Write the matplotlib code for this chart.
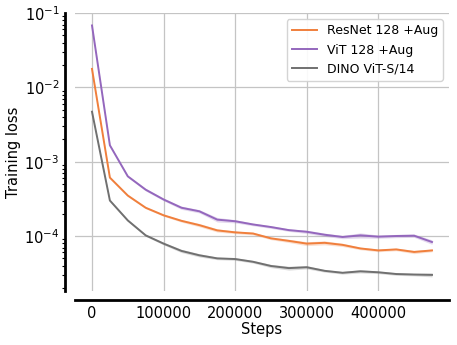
import numpy as np
import matplotlib
matplotlib.use("Agg")
import matplotlib.pyplot as plt
from matplotlib.ticker import LogLocator, NullFormatter

steps = [0, 25000, 50000, 75000, 100000, 125000, 150000, 175000, 200000, 225000,
         250000, 275000, 300000, 325000, 350000, 375000, 400000, 425000, 450000, 475000]

resnet = [1.77e-2, 6.1e-4, 3.5e-4, 2.4e-4, 1.9e-4, 1.6e-4, 1.4e-4, 1.19e-4, 1.12e-4, 1.08e-4,
          9.3e-5, 8.6e-5, 7.9e-5, 8.1e-5, 7.6e-5, 6.8e-5, 6.4e-5, 6.6e-5, 6.1e-5, 6.4e-5]
vit = [6.8e-2, 1.66e-3, 6.35e-4, 4.2e-4, 3.1e-4, 2.4e-4, 2.15e-4, 1.66e-4, 1.58e-4, 1.43e-4,
       1.32e-4, 1.2e-4, 1.14e-4, 1.04e-4, 9.7e-5, 1.02e-4, 9.8e-5, 1.0e-4, 1.01e-4, 8.3e-5]
dino = [4.7e-3, 3.0e-4, 1.62e-4, 1.02e-4, 7.9e-5, 6.3e-5, 5.5e-5, 5.0e-5, 4.9e-5, 4.5e-5,
        3.95e-5, 3.7e-5, 3.8e-5, 3.4e-5, 3.2e-5, 3.35e-5, 3.25e-5, 3.08e-5, 3.03e-5, 3.0e-5]

# relative spread of the shaded band around each curve
resnet_spread = [0.02, 0.03, 0.03, 0.03, 0.03, 0.04, 0.05, 0.05, 0.04, 0.04,
                 0.04, 0.05, 0.06, 0.06, 0.05, 0.04, 0.04, 0.04, 0.05, 0.04]
vit_spread = [0.02, 0.03, 0.03, 0.04, 0.04, 0.05, 0.05, 0.07, 0.05, 0.04,
              0.04, 0.04, 0.05, 0.05, 0.05, 0.08, 0.05, 0.05, 0.05, 0.07]
dino_spread = [0.02, 0.03, 0.03, 0.03, 0.04, 0.05, 0.05, 0.04, 0.04, 0.04,
               0.05, 0.06, 0.05, 0.04, 0.04, 0.05, 0.04, 0.04, 0.04, 0.06]

labels = ["ResNet 128 +Aug", "ViT 128 +Aug", "DINO ViT-S/14"]
colors = ["#f07f3c", "#9467bd", "#707070"]

fig = plt.figure(figsize=(4.57, 3.45), dpi=100)
ax = fig.add_axes([0.1641, 0.1565, 0.8184, 0.8058])

x = np.array(steps)
for vals, spread, lab, c in zip([resnet, vit, dino], [resnet_spread, vit_spread, dino_spread], labels, colors):
    v = np.array(vals)
    s = np.array(spread)
    ax.fill_between(x, v * (1 - s), v * (1 + s), color=c, alpha=0.25, linewidth=0)
    ax.plot(x, v, color=c, lw=1.4, label=lab)

ax.set_yscale("log")
ax.set_ylim(10 ** -4.74, 1e-1)
ax.set_xlim(-23750, 498750)
ax.set_xticks([0, 100000, 200000, 300000, 400000])
ax.set_xticklabels(["0", "100000", "200000", "300000", "400000"])
ax.yaxis.set_minor_locator(LogLocator(base=10, subs=np.arange(2, 10), numticks=20))
ax.yaxis.set_minor_formatter(NullFormatter())

ax.grid(True, which="major", color="#c4c4c4", lw=0.9)
ax.set_axisbelow(True)

for sp in ["top", "right"]:
    ax.spines[sp].set_visible(False)
ax.spines["left"].set_position(("outward", 7.2))
ax.spines["bottom"].set_position(("outward", 6.5))
ax.spines["left"].set_linewidth(2.0)
ax.spines["bottom"].set_linewidth(2.0)

ax.tick_params(axis="both", which="major", length=0, labelsize=10.5)
ax.tick_params(axis="y", which="major", pad=4)
ax.tick_params(axis="x", which="major", pad=4)
ax.tick_params(axis="y", which="minor", length=2, width=0.8)

ax.set_xlabel("Steps", fontsize=10.5, labelpad=1)
ax.set_ylabel("Training loss", fontsize=10.5, labelpad=2)

leg = ax.legend(loc="upper right", fontsize=9, frameon=True, framealpha=0.9,
                edgecolor="#d0d0d0", borderpad=0.4, handlelength=2.0)

fig.savefig("out.png", dpi=100)
